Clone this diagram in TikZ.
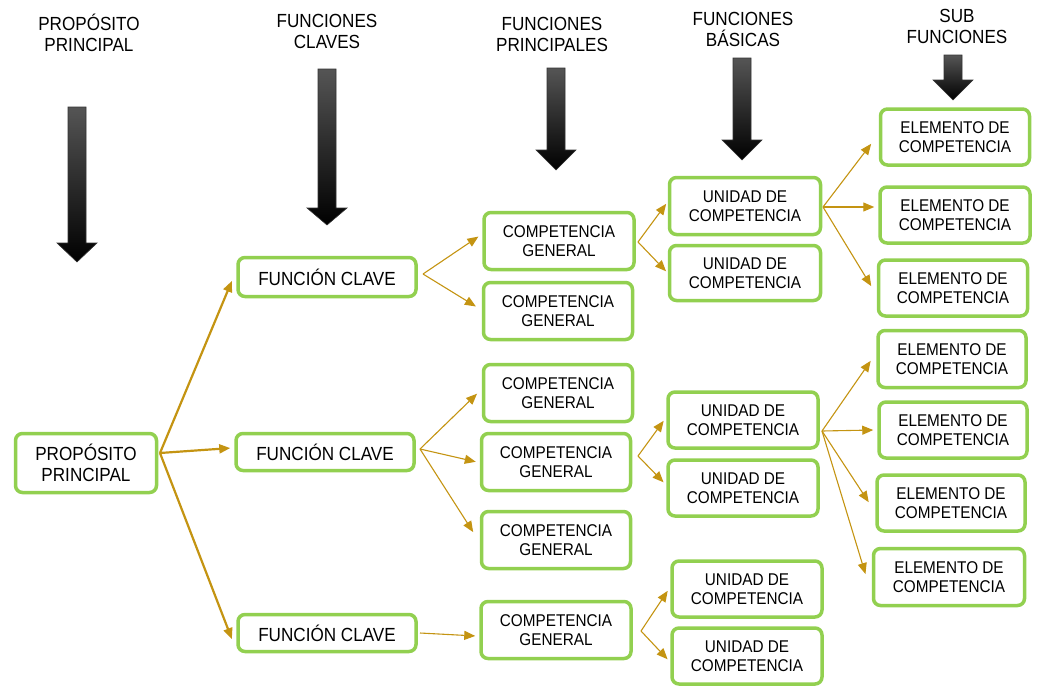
\documentclass[tikz,border=0pt]{standalone}
\usepackage{fontspec}
\setmainfont{Liberation Sans}[FakeStretch=0.9]
\usetikzlibrary{arrows.meta,calc}
\definecolor{boxgreen}{RGB}{146,208,80}
\definecolor{gold}{RGB}{196,148,18}
\definecolor{shaftgray}{RGB}{85,85,85}
\newcommand\blkarrow[4]{%
  \shade[top color=shaftgray, middle color=black, bottom color=black, draw=black!80, line width=0.6pt]
    ({#1-9},#2) -- ({#1+9},#2) -- ({#1+9},#3) -- ({#1+20},#3) -- (#1,#4) -- ({#1-20},#3) -- ({#1-9},#3) -- cycle;}
\begin{document}
\begin{tikzpicture}[x=1pt,y=-1pt,
  box/.style={draw=boxgreen, line width=3.5pt, rounded corners=7pt, fill=white, align=center,
    inner sep=0pt, font=\fontsize{17}{19}\selectfont},
  bigbox/.style={box, font=\fontsize{19}{20.5}\selectfont},
  head/.style={align=center, font=\fontsize{19}{21}\selectfont, inner sep=0pt},
  con/.style={draw=gold, line width=1.1pt, -{Triangle[length=11pt,width=9pt]}, shorten >=1pt},
  thickcon/.style={draw=gold, line width=2.2pt, -{Triangle[length=11pt,width=9pt]}, shorten >=1pt}]
\useasboundingbox (0,0) rectangle (1038,686);

% headers
\node[head] (h1) at (89,33) {PROPÓSITO\\PRINCIPAL};
\node[head] (h2) at (327,31) {FUNCIONES\\CLAVES};
\node[head] (h3) at (552,34) {FUNCIONES\\PRINCIPALES};
\node[head] (h4) at (743,29) {FUNCIONES\\BÁSICAS};
\node[head] (h5) at (957,26) {SUB\\FUNCIONES};

% black arrows
\blkarrow{77}{107}{243}{262}
\blkarrow{327}{69}{208}{225}
\blkarrow{556}{68}{150}{170}
\blkarrow{742}{58}{140}{160}
\blkarrow{953}{55}{80}{100}

% boxes
\node[bigbox, minimum width=141pt, minimum height=59pt] (pp) at (86,463) {PROPÓSITO\\PRINCIPAL};
\node[bigbox, minimum width=178pt, minimum height=39pt] (fc1) at (327,277) {FUNCIÓN CLAVE};
\node[bigbox, minimum width=178pt, minimum height=37pt] (fc2) at (325,452) {FUNCIÓN CLAVE};
\node[bigbox, minimum width=178pt, minimum height=37pt] (fc3) at (327,633) {FUNCIÓN CLAVE};

\node[box, minimum width=150pt, minimum height=57pt] (cg1) at (559,241) {COMPETENCIA\\GENERAL};
\node[box, minimum width=149pt, minimum height=57pt] (cg2) at (558,311) {COMPETENCIA\\GENERAL};
\node[box, minimum width=149pt, minimum height=57pt] (cg3) at (558,393) {COMPETENCIA\\GENERAL};
\node[box, minimum width=149pt, minimum height=57pt] (cg4) at (556,462) {COMPETENCIA\\GENERAL};
\node[box, minimum width=149pt, minimum height=57pt] (cg5) at (556,540) {COMPETENCIA\\GENERAL};
\node[box, minimum width=150pt, minimum height=57pt] (cg6) at (556,630) {COMPETENCIA\\GENERAL};

\node[box, minimum width=151pt, minimum height=57pt] (uc1) at (745,206) {UNIDAD DE\\COMPETENCIA};
\node[box, minimum width=151pt, minimum height=55pt] (uc2) at (745,273) {UNIDAD DE\\COMPETENCIA};
\node[box, minimum width=150pt, minimum height=56pt] (uc3) at (743,420) {UNIDAD DE\\COMPETENCIA};
\node[box, minimum width=150pt, minimum height=56pt] (uc4) at (743,488) {UNIDAD DE\\COMPETENCIA};
\node[box, minimum width=150pt, minimum height=56pt] (uc5) at (747,589) {UNIDAD DE\\COMPETENCIA};
\node[box, minimum width=150pt, minimum height=56pt] (uc6) at (747,656) {UNIDAD DE\\COMPETENCIA};

\node[box, minimum width=149pt, minimum height=56pt] (ec1) at (955,137) {ELEMENTO DE\\COMPETENCIA};
\node[box, minimum width=150pt, minimum height=56pt] (ec2) at (955,215) {ELEMENTO DE\\COMPETENCIA};
\node[box, minimum width=149pt, minimum height=56pt] (ec3) at (953,288) {ELEMENTO DE\\COMPETENCIA};
\node[box, minimum width=148pt, minimum height=57pt] (ec4) at (952,359) {ELEMENTO DE\\COMPETENCIA};
\node[box, minimum width=148pt, minimum height=56pt] (ec5) at (953,430) {ELEMENTO DE\\COMPETENCIA};
\node[box, minimum width=148pt, minimum height=56pt] (ec6) at (951,503) {ELEMENTO DE\\COMPETENCIA};
\node[box, minimum width=151pt, minimum height=57pt] (ec7) at (949,577) {ELEMENTO DE\\COMPETENCIA};

% fork origins
\coordinate (p0) at (160,453);
\coordinate (f1) at (423,274);
\coordinate (f2) at (420,449);
\coordinate (f3) at (420,633);
\coordinate (c1) at (638,242);
\coordinate (c4) at (638,456);
\coordinate (c6) at (641,631);
\coordinate (u1) at (823,207);
\coordinate (u3) at (822,431);

% connectors
\draw[thickcon] (p0) -- ([shift={(-4,3)}]fc1.west);
\draw[thickcon] (p0) -- ([shift={(-3,-4)}]fc2.west);
\draw[thickcon] (p0) -- ([shift={(-4,7)}]fc3.west);

\draw[con] (f1) -- ([shift={(-3,-5)}]cg1.west);
\draw[con] (f1) -- ([shift={(-5,-4)}]cg2.west);
\draw[con] (f2) -- ([shift={(-4,0)}]cg3.west);
\draw[con] (f2) -- ([shift={(-3,0)}]cg4.west);
\draw[con] (f2) -- ([shift={(-6,-7)}]cg5.west);
\draw[con] (f3) -- ([shift={(-3,6)}]cg6.west);

\draw[con] (c1) -- ([shift={(-1,-3)}]uc1.west);
\draw[con] (c1) -- ([shift={(-1,-1)}]uc2.west);
\draw[con] (c4) -- ([shift={(-2,0)}]uc3.west);
\draw[con] (c4) -- ([shift={(-2,-5)}]uc4.west);
\draw[con] (c6) -- ([shift={(-2,1)}]uc5.west);
\draw[con] (c6) -- ([shift={(-2,4)}]uc6.west);

\draw[con] (u1) -- ([shift={(-7,6)}]ec1.west);
\draw[con] (u1) -- ([shift={(-3,-8)}]ec2.west);
\draw[con] (u1) -- ([shift={(-5,-1)}]ec3.west);
\draw[con] (u3) -- ([shift={(-5,1)}]ec4.west);
\draw[con] (u3) -- ([shift={(-3,0)}]ec5.west);
\draw[con] (u3) -- ([shift={(-6,0)}]ec6.west);
\draw[con] (u3) -- ([shift={(-6,-2)}]ec7.west);
\end{tikzpicture}
\end{document}
